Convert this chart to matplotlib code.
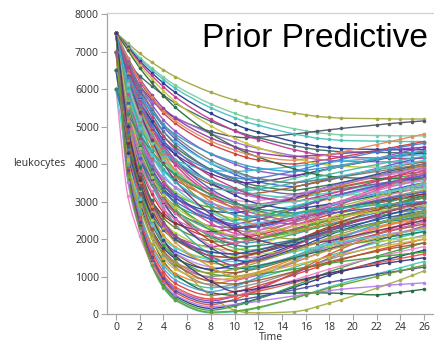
import matplotlib
matplotlib.use('Agg')
import matplotlib.pyplot as plt
from matplotlib.path import Path
from matplotlib.patches import PathPatch

time = [0, 1, 2, 3, 4, 5, 8, 10, 11, 12, 15, 16, 17, 18, 19, 22, 23, 24, 25, 26]

curves = [
    [7500,7224,6948,6718,6511,6327,5913,5706,5614,5545,5361,5315,5269,5246,5223,5210,5205,5200,5200,5200],
    [7500,7170,6840,6565,6318,6098,5603,5355,5245,5163,4943,4888,4833,4805,4778,4760,4755,4750,4750,4750],
    [7500,6660,6100,5708,5428,5232,4868,4728,4700,4714,4799,4835,4876,4912,4948,5042,5074,5101,5128,5150],
    [7500,7152,6804,6514,6253,6021,5499,5238,5122,5035,4803,4745,4687,4658,4629,4610,4605,4600,4600,4600],
    [7500,7126,6751,6439,6158,5909,5347,5066,4942,4848,4598,4536,4474,4442,4411,4390,4385,4380,4380,4380],
    [7000,6676,6352,6082,5839,5623,5137,4894,4786,4705,4489,4435,4381,4354,4327,4310,4305,4300,4300,4300],
    [7500,6800,6205,5750,5365,5085,4525,4280,4175,4105,4000,4036,4084,4132,4186,4360,4420,4480,4540,4600],
    [7500,7098,6696,6361,6060,5792,5189,4887,4753,4653,4385,4318,4251,4217,4184,4160,4155,4150,4150,4150],
    [7500,6740,6094,5600,5182,4878,4270,4004,3890,3814,3700,3745,3805,3865,3933,4150,4225,4300,4375,4450],
    [6500,6206,5912,5667,5447,5251,4810,4589,4491,4418,4222,4173,4124,4099,4075,4060,4055,4050,4050,4050],
    [7500,6680,5983,5450,4999,4671,4015,3728,3605,3523,3400,3448,3512,3576,3648,3880,3960,4040,4120,4200],
    [7500,6210,5350,4748,4318,4017,3458,3243,3200,3226,3387,3455,3532,3600,3668,3846,3906,3957,4008,4050],
    [7000,6260,5631,5150,4743,4447,3855,3596,3485,3411,3300,3339,3391,3443,3502,3690,3755,3820,3885,3950],
    [7500,6150,5250,4620,4170,3855,3270,3045,3000,3026,3187,3255,3332,3400,3468,3646,3706,3757,3808,3850],
    [7500,5526,4492,3834,3411,3176,2847,2800,2838,2886,3085,3161,3237,3313,3380,3551,3608,3655,3703,3750],
    [6000,5420,4927,4550,4231,4000,3535,3332,3245,3187,3100,3136,3184,3232,3286,3460,3520,3580,3640,3700],
    [7500,6030,5050,4364,3874,3531,2894,2649,2600,2630,2820,2900,2990,3070,3150,3360,3430,3490,3550,3600],
    [7500,5316,4172,3444,2976,2716,2352,2300,2346,2404,2645,2737,2829,2921,3002,3209,3278,3335,3393,3450],
    [7000,5710,4850,4248,3818,3517,2958,2743,2700,2726,2887,2955,3032,3100,3168,3346,3406,3457,3508,3550],
    [7500,5910,4850,4108,3578,3207,2518,2253,2200,2233,2442,2530,2629,2717,2805,3036,3113,3179,3245,3300],
    [6500,5300,4500,3940,3540,3260,2740,2540,2500,2526,2687,2755,2832,2900,2968,3146,3206,3257,3308,3350],
    [7500,6560,5761,5150,4633,4257,3505,3176,3035,2941,2800,2836,2884,2932,2986,3160,3220,3280,3340,3400],
    [7500,5190,3980,3210,2715,2440,2055,2000,2048,2108,2360,2456,2552,2648,2732,2948,3020,3080,3140,3200],
    [7500,4593,3510,2769,2313,2057,1800,1878,1943,2021,2268,2359,2450,2541,2619,2840,2905,2970,3035,3100],
    [7000,4858,3736,3022,2563,2308,1951,1900,1944,1999,2230,2318,2406,2494,2571,2769,2835,2890,2945,3000],
    [7500,5820,4700,3916,3356,2964,2236,1956,1900,1932,2131,2215,2310,2394,2478,2698,2772,2835,2898,2950],
    [7500,5022,3724,2898,2367,2072,1659,1600,1650,1713,1975,2075,2175,2275,2363,2588,2663,2725,2788,2850],
    [6000,4800,4000,3440,3040,2760,2240,2040,2000,2024,2176,2240,2312,2376,2440,2608,2664,2712,2760,2800],
    [7500,4389,3230,2437,1949,1675,1400,1478,1543,1621,1868,1959,2050,2141,2219,2440,2505,2570,2635,2700],
    [7500,4896,3532,2664,2106,1796,1362,1300,1352,1417,1690,1794,1898,2002,2093,2327,2405,2470,2535,2600],
    [7000,5350,4250,3480,2930,2545,1830,1555,1500,1532,1731,1815,1910,1994,2078,2298,2372,2435,2498,2550],
    [7500,4185,2950,2105,1585,1293,1000,1090,1165,1255,1540,1645,1750,1855,1945,2200,2275,2350,2425,2500],
    [7500,4812,3404,2508,1932,1612,1164,1100,1152,1217,1490,1594,1698,1802,1893,2127,2205,2270,2335,2400],
    [6500,4274,3108,2366,1889,1624,1253,1200,1244,1299,1530,1618,1706,1794,1871,2069,2135,2190,2245,2300],
    [7500,4032,2740,1856,1312,1006,700,790,865,955,1240,1345,1450,1555,1645,1900,1975,2050,2125,2200],
    [7500,3930,2600,1690,1130,815,500,590,665,755,1040,1145,1250,1355,1445,1700,1775,1850,1925,2000],
    [7500,3752,2355,1400,812,481,150,243,321,414,708,817,925,1034,1127,1390,1468,1545,1623,1700],
    [7500,3690,2271,1300,702,366,30,60,100,160,420,520,620,720,810,1070,1150,1230,1320,1400],
    [7500,5259,3765,2719,1978,1457,478,105,40,30,60,110,200,290,380,690,800,910,1030,1150],
    [7500,4560,3020,2040,1410,1060,570,500,520,540,560,565,565,560,550,510,540,580,620,660],
    [7000,3532,2240,1356,812,506,200,250,290,340,480,530,580,620,660,740,770,790,810,830],
    [7500,7068,6636,6276,5952,5664,5016,4692,4548,4440,4152,4080,4008,3972,3936,3915,3910,3905,3900,3900],
    [7000,6300,5705,5250,4865,4585,4025,3780,3675,3605,3500,3536,3584,3632,3686,3860,3920,3980,4040,4100],
    [7500,6300,5500,4940,4540,4260,3740,3540,3500,3524,3676,3740,3812,3876,3940,4108,4164,4212,4260,4300],
    [6500,5420,4700,4196,3836,3584,3116,2936,2900,2927,3098,3170,3251,3323,3395,3584,3647,3701,3755,3800],
    [7500,5400,4300,3600,3150,2900,2550,2500,2546,2604,2845,2937,3029,3121,3202,3409,3478,3535,3593,3650],
    [7500,6480,5613,4950,4389,3981,3165,2808,2655,2553,2400,2442,2498,2554,2617,2820,2890,2960,3030,3100],
    [7500,5064,3788,2976,2454,2164,1758,1700,1764,1844,2180,2308,2436,2564,2676,2964,3060,3140,3220,3300],
    [7500,4287,3090,2271,1767,1484,1200,1308,1398,1506,1848,1974,2100,2226,2334,2640,2730,2820,2910,3000],
    [7000,3838,2660,1854,1358,1079,800,911,1004,1115,1466,1596,1725,1855,1966,2280,2373,2465,2558,2650],
    [7500,3854,2495,1566,994,672,350,470,570,690,1070,1210,1350,1490,1610,1950,2050,2150,2250,2350],
    [7500,3726,2320,1358,766,433,100,208,298,406,748,874,1000,1126,1234,1540,1630,1720,1810,1900],
    [6000,3144,2080,1352,904,652,400,484,554,638,904,1002,1100,1198,1282,1520,1590,1660,1730,1800],
    [7500,4644,3148,2196,1584,1244,768,700,756,826,1120,1232,1344,1456,1554,1806,1890,1960,2030,2100],
    [7500,5610,4350,3468,2838,2397,1578,1263,1200,1247,1541,1665,1805,1929,2053,2378,2487,2580,2673,2750],
    [7500,5730,4550,3724,3134,2721,1954,1659,1600,1647,1941,2065,2205,2329,2453,2778,2887,2980,3073,3150],
    [7000,5590,4650,3992,3522,3193,2582,2347,2300,2336,2564,2660,2768,2864,2960,3212,3296,3368,3440,3500],
    [7500,6400,5465,4750,4145,3705,2825,2440,2275,2165,2000,2042,2098,2154,2217,2420,2490,2560,2630,2700],
    [6500,5800,5205,4750,4365,4085,3525,3280,3175,3105,3000,3039,3091,3143,3202,3390,3455,3520,3585,3650],
    [7500,5736,4812,4224,3846,3636,3342,3300,3342,3395,3615,3699,3783,3867,3941,4130,4193,4245,4298,4350],
    [7500,5946,5132,4614,4281,4096,3837,3800,3818,3841,3935,3971,4007,4043,4075,4156,4183,4205,4228,4250],
    [7000,4552,3640,3016,2632,2416,2200,2260,2310,2370,2560,2630,2700,2770,2830,3000,3050,3100,3150,3200],
    [7500,4440,3300,2520,2040,1770,1500,1533,1561,1594,1698,1737,1775,1814,1847,1940,1968,1995,2023,2050],
    [6500,5090,4150,3492,3022,2693,2082,1847,1800,1824,1976,2040,2112,2176,2240,2408,2464,2512,2560,2600],
    [7500,6640,5909,5350,4877,4533,3845,3544,3415,3329,3200,3227,3263,3299,3340,3470,3515,3560,3605,3650],
    [7500,7032,6564,6174,5823,5511,4809,4458,4302,4185,3873,3795,3717,3678,3639,3615,3610,3605,3600,3600],
    [7000,4438,3096,2242,1693,1388,961,900,962,1040,1365,1489,1613,1737,1846,2125,2218,2295,2373,2450],
    [7500,3981,2670,1773,1221,911,600,735,848,983,1410,1568,1725,1883,2018,2400,2513,2625,2738,2850],
    [7500,6090,5150,4492,4022,3693,3082,2847,2800,2835,3053,3145,3249,3341,3433,3674,3755,3824,3893,3950],
    [7500,6520,5687,5050,4511,4119,3335,2992,2845,2747,2600,2624,2656,2688,2724,2840,2880,2920,2960,3000],
    [7500,4770,3340,2430,1845,1520,1065,1000,1026,1059,1195,1247,1299,1351,1397,1514,1553,1585,1618,1650],
    [7500,3803,2425,1483,903,574,250,391,509,650,1096,1261,1425,1590,1731,2130,2248,2365,2483,2600],
    [6000,4068,3056,2412,1998,1768,1446,1400,1434,1477,1655,1723,1791,1859,1919,2072,2123,2165,2208,2250],
    [7500,5880,4800,4044,3504,3126,2424,2154,2100,2150,2463,2595,2744,2876,3008,3354,3470,3569,3668,3750],
    [7500,5484,4428,3756,3324,3084,2748,2700,2752,2817,3090,3194,3298,3402,3493,3727,3805,3870,3935,4000],
    [7500,6240,5400,4812,4392,4098,3552,3342,3300,3327,3498,3570,3651,3723,3795,3984,4047,4101,4155,4200],
    [7500,6600,5835,5250,4755,4395,3675,3360,3225,3135,3000,3054,3126,3198,3279,3540,3630,3720,3810,3900],
    [7500,5664,4593,3879,3420,3114,2604,2400,2452,2517,2790,2894,2998,3102,3193,3427,3505,3570,3635,3700],
    [7000,5500,4500,3800,3300,2950,2300,2050,2000,2033,2242,2330,2429,2517,2605,2836,2913,2979,3045,3100],
    [7500,6440,5539,4850,4267,3843,2995,2624,2465,2359,2200,2266,2354,2442,2541,2860,2970,3080,3190,3300],
    [7500,5670,4450,3596,2986,2559,1766,1461,1400,1445,1730,1850,1985,2105,2225,2540,2645,2735,2825,2900],
    [7500,5484,4308,3524,3020,2684,2124,1900,1960,2035,2350,2470,2590,2710,2815,3085,3175,3250,3325,3400],
    [6500,5720,5057,4550,4121,3809,3185,2912,2795,2717,2600,2654,2726,2798,2879,3140,3230,3320,3410,3500],
    [7500,5970,4950,4236,3726,3369,2706,2451,2400,2432,2631,2715,2810,2894,2978,3198,3272,3335,3398,3450],
    [7500,4980,3660,2820,2280,1980,1560,1500,1558,1631,1935,2051,2167,2283,2385,2646,2733,2805,2878,2950],
    [7500,6700,6020,5500,5060,4740,4100,3820,3700,3620,3500,3530,3570,3610,3655,3800,3850,3900,3950,4000],
    [7000,5488,4606,4018,3640,3388,2968,2800,2844,2899,3130,3218,3306,3394,3471,3669,3735,3790,3845,3900],
    [7500,5232,3909,3027,2460,2082,1452,1200,1240,1290,1500,1580,1660,1740,1810,1990,2050,2100,2150,2200],
    [7500,4134,2880,2022,1494,1197,900,966,1021,1087,1296,1373,1450,1527,1593,1780,1835,1890,1945,2000],
    [6000,4890,4150,3632,3262,3003,2522,2337,2300,2329,2509,2585,2671,2747,2823,3022,3089,3146,3203,3250],
    [7500,6500,5650,5000,4450,4050,3250,2900,2750,2650,2500,2581,2689,2797,2919,3310,3445,3580,3715,3850],
    [7500,5760,4600,3788,3208,2802,2048,1758,1700,1729,1909,1985,2071,2147,2223,2422,2489,2546,2603,2650],
    [7500,4686,3212,2274,1671,1336,867,800,844,899,1130,1218,1306,1394,1471,1669,1735,1790,1845,1900],
    [7000,6360,5816,5400,5048,4792,4280,4056,3960,3896,3800,3833,3877,3921,3971,4130,4185,4240,4295,4350],
    [7500,6840,6279,5850,5487,5223,4695,4464,4365,4299,4200,4215,4235,4255,4278,4350,4375,4400,4425,4450],
    [7500,5556,4422,3666,3180,2856,2316,2100,2132,2172,2340,2404,2468,2532,2588,2732,2780,2820,2860,2900],
    [6500,4442,3364,2678,2237,1992,1649,1600,1646,1704,1945,2037,2129,2221,2302,2509,2578,2635,2693,2750],
    [7500,3879,2530,1607,1039,720,400,472,532,604,832,916,1000,1084,1156,1360,1420,1480,1540,1600],
    [7500,6120,5200,4556,4096,3774,3176,2946,2900,2914,2999,3035,3076,3112,3148,3242,3274,3301,3328,3350],
    [7500,6360,5391,4650,4023,3567,2655,2256,2085,1971,1800,1842,1898,1954,2017,2220,2290,2360,2430,2500],
    [7000,3991,2870,2103,1631,1366,1100,1199,1282,1381,1694,1810,1925,2041,2140,2420,2503,2585,2668,2750],
    [7500,6330,5550,5004,4614,4341,3834,3639,3600,3629,3809,3885,3971,4047,4123,4322,4389,4446,4503,4550],
    [7500,5232,4044,3288,2802,2532,2154,2100,2160,2235,2550,2670,2790,2910,3015,3285,3375,3450,3525,3600],
    [6000,5340,4779,4350,3987,3723,3195,2964,2865,2799,2700,2727,2763,2799,2840,2970,3015,3060,3105,3150],
    [7500,5160,3795,2885,2300,1910,1260,1000,1052,1117,1390,1494,1598,1702,1793,2027,2105,2170,2235,2300],
    [7500,3828,2460,1524,948,624,300,357,405,462,642,709,775,842,899,1060,1108,1155,1203,1250],
    [7500,6820,6242,5800,5426,5154,4610,4372,4270,4202,4100,4142,4198,4254,4317,4520,4590,4660,4730,4800],
    [7500,6030,5050,4364,3874,3531,2894,2649,2600,2612,2688,2720,2756,2788,2820,2904,2932,2956,2980,3000],
    [7000,4948,3751,2953,2440,2098,1528,1300,1368,1453,1810,1946,2082,2218,2337,2643,2745,2830,2915,3000],
    [7500,3700,2285,1317,721,385,50,80,120,180,420,510,600,690,770,1000,1080,1150,1230,1300],
    [7500,5016,3567,2601,1980,1566,876,600,636,681,870,942,1014,1086,1149,1311,1365,1410,1455,1500],
]

colors = [
    '#A3A83C', '#7CCBA2', '#505466', '#4BBFBF', '#243E8C', '#3E6B6B', '#D23C3C', '#C33A93',
    '#8E55C8', '#9B6FD0', '#3D5FD0', '#A8622E', '#2F7A45', '#E58CC3', '#3DAA4A', '#3FC7C9',
    '#E8922F', '#7B4BC0', '#4DD0E1', '#8A8A8A', '#9ACD3F', '#2A3F8F', '#CC3333', '#C2338A',
    '#6E7B2E', '#3A8FB5', '#8F4FD0', '#46B050', '#3355CC', '#E0902A', '#E27AB8', '#7F9F7F',
    '#9C5A2C', '#B394E6', '#3CC0B0', '#D9453D', '#1F3A80', '#47C8B4', '#A4AE44', '#1E6B3A',
    '#B57FEA', '#CBC23C', '#4CC9DD', '#5A2E8A', '#D04848', '#2FA88A', '#C8389A', '#A5D13A',
    '#283C8A', '#E88A2A', '#8B47C8', '#38A048', '#EA88C5', '#909090', '#35B5AA', '#A2452F',
    '#4060D0', '#8E9A34', '#A070E0', '#52C49A', '#40BCD6', '#8E2A35', '#B8D64A', '#2A7F7F',
    '#5B6C8F', '#2B6E3C', '#D55AA6', '#5A9BE0', '#C77A30', '#5B4FB8', '#3E9E3E', '#E0523A',
    '#50D0E0', '#D9489E', '#30479E',
    '#3FB8A8', '#C23B7A', '#6A4FC0', '#4F9F3A', '#D8843A', '#2E4A9A', '#E06F9F', '#8FBF3F',
    '#56C1D8', '#9E3B3B', '#7A7A7A', '#B07ADA', '#1F7A5A', '#D4B43A', '#4262C8', '#C9558C',
    '#5EAE6E', '#A35C2A', '#3A9EC8', '#8A3FA8', '#B9C94A', '#2C5F8A', '#E2574C', '#6FCFB0',
    '#7B2E6E', '#95A33A', '#4A7FD0', '#DA70C0', '#338A66', '#C8A040', '#5050A0', '#E48A5A',
    '#2FB0C0', '#A04A8A', '#6C9C2C', '#3A3A7A',
]

xticks = list(range(0, 27, 2))
yticks = [0, 1000, 2000, 3000, 4000, 5000, 6000, 7000, 8000]

title = 'Prior Predictive'
xlabel = 'Time'
ylabel = 'leukocytes'


def smooth_path(xs, ys):
    """Monotone cubic (Fritsch-Carlson) curve through the points as Bezier segments."""
    n = len(xs)
    h = [xs[i + 1] - xs[i] for i in range(n - 1)]
    d = [(ys[i + 1] - ys[i]) / h[i] for i in range(n - 1)]
    m = [0.0] * n
    m[0] = d[0]
    m[-1] = d[-1]
    for k in range(1, n - 1):
        if d[k - 1] * d[k] <= 0:
            m[k] = 0.0
        else:
            w1 = 2 * h[k] + h[k - 1]
            w2 = h[k] + 2 * h[k - 1]
            m[k] = (w1 + w2) / (w1 / d[k - 1] + w2 / d[k])
    verts = [(xs[0], ys[0])]
    codes = [Path.MOVETO]
    for i in range(n - 1):
        verts += [(xs[i] + h[i] / 3, ys[i] + m[i] * h[i] / 3),
                  (xs[i + 1] - h[i] / 3, ys[i + 1] - m[i + 1] * h[i] / 3),
                  (xs[i + 1], ys[i + 1])]
        codes += [Path.CURVE4] * 3
    return Path(verts, codes)


W, H = 435, 343
fig = plt.figure(figsize=(W / 100, H / 100), dpi=100)
fig.patch.set_facecolor('white')
ax = fig.add_axes([107 / W, 29 / H, 328 / W, 301 / H])

for vals, col in zip(curves, colors):
    ax.add_patch(PathPatch(smooth_path(time, vals), fill=False, edgecolor=col,
                           lw=1.0, alpha=0.95, joinstyle='round'))
    ax.plot(time, vals, linestyle='none', color=col, marker='o', ms=2.6, mew=0, alpha=0.95)

ax.set_xlim(-0.76, 26.92)
ax.set_ylim(0, 8027)
ax.set_xticks(xticks)
ax.set_yticks(yticks)

tickfont = 'Noto Sans'
for lab in ax.get_xticklabels() + ax.get_yticklabels():
    lab.set_family(tickfont)

ax.tick_params(axis='both', direction='out', length=4.3, width=0.8, color='#A6A6A6',
               labelcolor='#3A3A3A', labelsize=7.5, pad=1.5)

for s in ['left', 'bottom']:
    ax.spines[s].set_color('#A6A6A6')
    ax.spines[s].set_linewidth(0.9)
ax.spines['top'].set_color('#D0D0D0')
ax.spines['top'].set_linewidth(0.9)
ax.spines['right'].set_visible(False)

fig.text(428 / W, 1 - 47 / H, title, ha='right', va='baseline', fontsize=24,
         family='Liberation Sans', color='black')
fig.text(13 / W, 1 - 164 / H, ylabel, ha='left', va='center', fontsize=7.5,
         family=tickfont, color='#3A3A3A')
fig.text(271 / W, 0.0, xlabel, ha='center', va='bottom', fontsize=7.5,
         family=tickfont, color='#3A3A3A')

fig.savefig('out.png', dpi=100)
